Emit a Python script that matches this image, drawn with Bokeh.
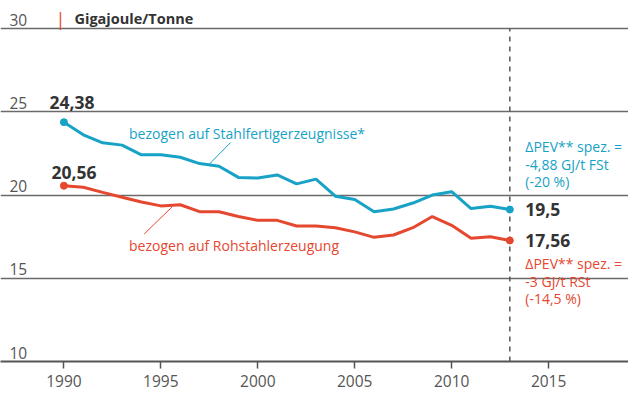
from bokeh.plotting import figure
from bokeh.models import Range1d, FixedTicker, ColumnDataSource
from bokeh.core.properties import value
from bokeh.embed import file_html
from bokeh.resources import INLINE

# ---------------- data ----------------
years = list(range(1990, 2014))
fst = [24.38, 23.62, 23.14, 23.00, 22.42, 22.42, 22.27, 21.89, 21.73, 21.06,
       21.02, 21.21, 20.67, 20.96, 19.93, 19.73, 19.00, 19.16, 19.52, 20.00,
       20.20, 19.19, 19.33, 19.13]
rst = [20.56, 20.47, 20.16, 19.87, 19.58, 19.35, 19.42, 19.00, 19.00, 18.71,
       18.48, 18.48, 18.14, 18.14, 18.04, 17.79, 17.46, 17.60, 18.04, 18.71,
       18.18, 17.41, 17.50, 17.27]
start_labels = ["24,38", "20,56"]
end_labels = ["19,5", "17,56"]
xticks = [1990, 1995, 2000, 2005, 2010, 2015]
yticks = [10, 15, 20, 25, 30]
unit = "Gigajoule/Tonne"
name_fst = "bezogen auf Stahlfertigerzeugnisse*"
name_rst = "bezogen auf Rohstahlerzeugung"
note_fst = ["\u0394PEV** spez. =", "-4,88 GJ/t FSt", "(-20 %)"]
note_rst = ["\u0394PEV** spez. =", "-3 GJ/t RSt", "(-14,5 %)"]

# ---------------- style ----------------
CYAN = "#17a2c6"
RED = "#e5472f"
GRID = "#6a6a6a"
TXT = "#555555"
DARK = "#333333"
FONT = value("Open Sans")

x0, x1 = 1986.73, 2019.12
p = figure(width=628, height=392,
           x_range=Range1d(x0, x1), y_range=Range1d(10, 31.69),
           output_backend="svg", toolbar_location=None,
           y_axis_location=None,
           min_border_left=0, min_border_right=0, min_border_top=0, min_border_bottom=31)
p.outline_line_color = None
p.background_fill_color = "white"
p.border_fill_color = "white"

p.xgrid.visible = False
p.ygrid.ticker = FixedTicker(ticks=yticks)
p.ygrid.grid_line_color = GRID
p.ygrid.grid_line_width = 1.5

ax = p.xaxis[0]
ax.ticker = FixedTicker(ticks=xticks)
ax.axis_line_color = "#555555"
ax.axis_line_width = 2
ax.major_tick_line_color = "#555555"
ax.major_tick_line_width = 1.5
ax.major_tick_in = 0
ax.major_tick_out = 7
ax.minor_tick_line_color = None
ax.major_label_text_font = "Open Sans"
ax.major_label_text_font_size = "15.5px"
ax.major_label_text_color = TXT
ax.major_label_standoff = 6

# y tick labels inside the plot, above the gridlines
p.text(x=[x0] * len(yticks), y=yticks, text=[str(t) for t in yticks],
       x_offset=9, y_offset=-9, text_align="left", text_baseline="alphabetic",
       text_font=FONT, text_font_size="15.5px", text_color=TXT)

# unit title
p.text(x=[x0], y=[yticks[-1]], text=["|"], x_offset=55, y_offset=-10,
       text_align="left", text_baseline="alphabetic",
       text_font=FONT, text_font_size="18px", text_color=RED)
p.text(x=[x0], y=[yticks[-1]], text=[unit], x_offset=74, y_offset=-10,
       text_align="left", text_baseline="alphabetic",
       text_font=FONT, text_font_size="14.5px", text_font_style="bold", text_color=DARK)

# dashed reference line at last year
p.segment(x0=[years[-1]], y0=[yticks[0]], x1=[years[-1]], y1=[yticks[-1]],
          line_color="#555555", line_width=1.5, line_dash="5 5")

# series
p.line(years, fst, line_color=CYAN, line_width=3)
p.line(years, rst, line_color=RED, line_width=3)
p.scatter([years[0], years[-1]], [fst[0], fst[-1]], size=7, color=CYAN)
p.scatter([years[0], years[-1]], [rst[0], rst[-1]], size=7, color=RED)

# leader lines (annotation layout)
p.segment(x0=[1997.44], y0=[21.79], x1=[1998.60], y1=[23.16], line_color=CYAN, line_width=1)
p.segment(x0=[1995.58], y0=[19.29], x1=[1994.14], y1=[17.66], line_color=RED, line_width=1)

# series names
p.text(x=[1993.36], y=[23.39], text=[name_fst], y_offset=-5,
       text_align="left", text_baseline="alphabetic",
       text_font=FONT, text_font_size="14px", text_color=CYAN)
p.text(x=[1993.36], y=[16.66], text=[name_rst], y_offset=-5,
       text_align="left", text_baseline="alphabetic",
       text_font=FONT, text_font_size="14px", text_color=RED)

# value labels
p.text(x=[years[0]], y=[fst[0]], text=[start_labels[0]], x_offset=-14.5, y_offset=-19.5,
       text_align="left", text_baseline="alphabetic",
       text_font=FONT, text_font_size="17.5px", text_font_style="bold", text_color=DARK)
p.text(x=[years[0]], y=[rst[0]], text=[start_labels[1]], x_offset=-12.5, y_offset=-13.5,
       text_align="left", text_baseline="alphabetic",
       text_font=FONT, text_font_size="17.5px", text_font_style="bold", text_color=DARK)
p.text(x=[years[-1], years[-1]], y=[fst[-1], rst[-1]], text=end_labels, x_offset=15.5,
       text_align="left", text_baseline="middle",
       text_font=FONT, text_font_size="17.5px", text_font_style="bold", text_color=DARK)

# change notes
src_c = ColumnDataSource(dict(x=[years[-1]] * 3, y=[fst[-1]] * 3, t=note_fst, dy=[-63, -45.5, -28]))
p.text(x="x", y="y", text="t", y_offset="dy", x_offset=15.5, source=src_c,
       text_align="left", text_baseline="middle",
       text_font=FONT, text_font_size="14px", text_color=CYAN)
src_r = ColumnDataSource(dict(x=[years[-1]] * 3, y=[rst[-1]] * 3, t=note_rst, dy=[22.5, 40.5, 58]))
p.text(x="x", y="y", text="t", y_offset="dy", x_offset=15.5, source=src_r,
       text_align="left", text_baseline="middle",
       text_font=FONT, text_font_size="14px", text_color=RED)

open("out.html", "w").write(file_html(p, INLINE))
